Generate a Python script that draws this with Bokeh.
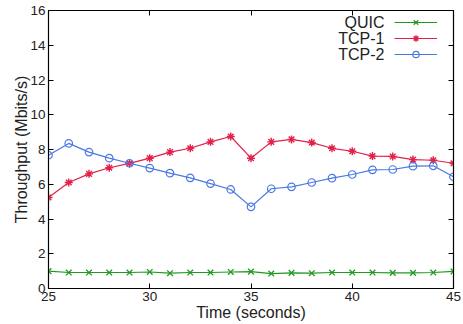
from bokeh.plotting import figure
from bokeh.models import (LinearAxis, Legend, LegendItem, Label, Range1d,
                          FixedTicker, CustomJSTickFormatter)
from bokeh.embed import file_html
from bokeh.resources import INLINE

time_s = list(range(25, 46))
quic = [1.0, 0.92, 0.92, 0.92, 0.92, 0.95, 0.88, 0.92, 0.92, 0.95, 0.97,
        0.86, 0.9, 0.88, 0.92, 0.92, 0.92, 0.9, 0.9, 0.92, 0.98]
tcp1 = [5.24, 6.1, 6.6, 6.95, 7.2, 7.5, 7.85, 8.07, 8.44, 8.75, 7.5,
        8.44, 8.58, 8.4, 8.07, 7.9, 7.62, 7.6, 7.42, 7.38, 7.21]
tcp2 = [7.67, 8.35, 7.85, 7.5, 7.21, 6.93, 6.64, 6.37, 6.04, 5.7, 4.7,
        5.74, 5.85, 6.1, 6.35, 6.56, 6.83, 6.85, 7.04, 7.06, 6.43]
x_ticks = [25, 30, 35, 40, 45]
y_ticks = [0, 2, 4, 6, 8, 10, 12, 14, 16]
series_names = ["QUIC", "TCP-1", "TCP-2"]

GREEN = "#1f9a1f"
RED = "#e3204a"
BLUE = "#4a78e4"
FONT = "Liberation Sans"

p = figure(width=463, height=324, output_backend="svg", toolbar_location=None,
           x_range=Range1d(25, 45), y_range=Range1d(0, 16),
           min_border_left=48, min_border_right=10, min_border_top=10,
           min_border_bottom=36)
p.grid.visible = False
p.outline_line_color = "black"
p.outline_line_width = 1.2
p.background_fill_color = "white"
p.border_fill_color = "white"

for ax in (p.xaxis[0], p.yaxis[0]):
    ax.major_tick_in = 5
    ax.major_tick_out = 0
    ax.minor_tick_line_color = None
    ax.axis_line_color = "black"
    ax.major_label_text_font = FONT
    ax.major_label_text_font_size = "13.5px"
    ax.major_label_text_color = "#222222"
    ax.axis_label_text_font = FONT
    ax.axis_label_text_font_size = "16px"
    ax.axis_label_text_font_style = "normal"
    ax.axis_label_text_color = "#222222"
    ax.major_label_standoff = 3

p.xaxis[0].ticker = FixedTicker(ticks=x_ticks)
p.yaxis[0].ticker = FixedTicker(ticks=y_ticks)
p.xaxis[0].axis_label = "Time (seconds)"
p.yaxis[0].axis_label = "Throughput (Mbits/s)"
p.xaxis[0].axis_label_standoff = 0
p.yaxis[0].axis_label_standoff = -3

blank = CustomJSTickFormatter(code="return '';")
for loc, ticks in (("right", y_ticks), ("above", x_ticks)):
    ax = LinearAxis(ticker=FixedTicker(ticks=ticks), formatter=blank,
                    major_tick_in=5, major_tick_out=0, minor_tick_line_color=None,
                    major_label_standoff=0, major_label_text_font_size="0px",
                    axis_line_color="black")
    p.add_layout(ax, loc)

lq = p.line(time_s, quic, line_color=GREEN, line_width=1.2)
sq = p.scatter(time_s, quic, marker="x", size=8, line_color=GREEN, line_width=1.3)
l1 = p.line(time_s, tcp1, line_color=RED, line_width=1.2)
s1 = p.scatter(time_s, tcp1, marker="asterisk", size=8, line_color=RED, line_width=1.4)
l2 = p.line(time_s, tcp2, line_color=BLUE, line_width=1.2)
s2 = p.scatter(time_s, tcp2, marker="circle", size=7.5, line_color=BLUE,
               fill_color=None, line_width=1.2)

legend = Legend(items=[LegendItem(label=" ", renderers=[lq, sq]),
                       LegendItem(label=" ", renderers=[l1, s1]),
                       LegendItem(label=" ", renderers=[l2, s2])],
                location=(346, 226), orientation="vertical",
                glyph_width=43, glyph_height=16, label_width=0, label_height=16,
                label_standoff=0, label_text_font_size="0px", spacing=0,
                padding=0, margin=0, border_line_color=None,
                background_fill_alpha=0)
p.add_layout(legend, "center")

for name, yv in zip(series_names, [15.31, 14.39, 13.47]):
    p.add_layout(Label(x=41.59, y=yv, text=name, text_align="right",
                       text_baseline="middle", text_font=FONT,
                       text_font_size="16px", text_color="#222222"))

open("out.html", "w").write(file_html(p, INLINE))
